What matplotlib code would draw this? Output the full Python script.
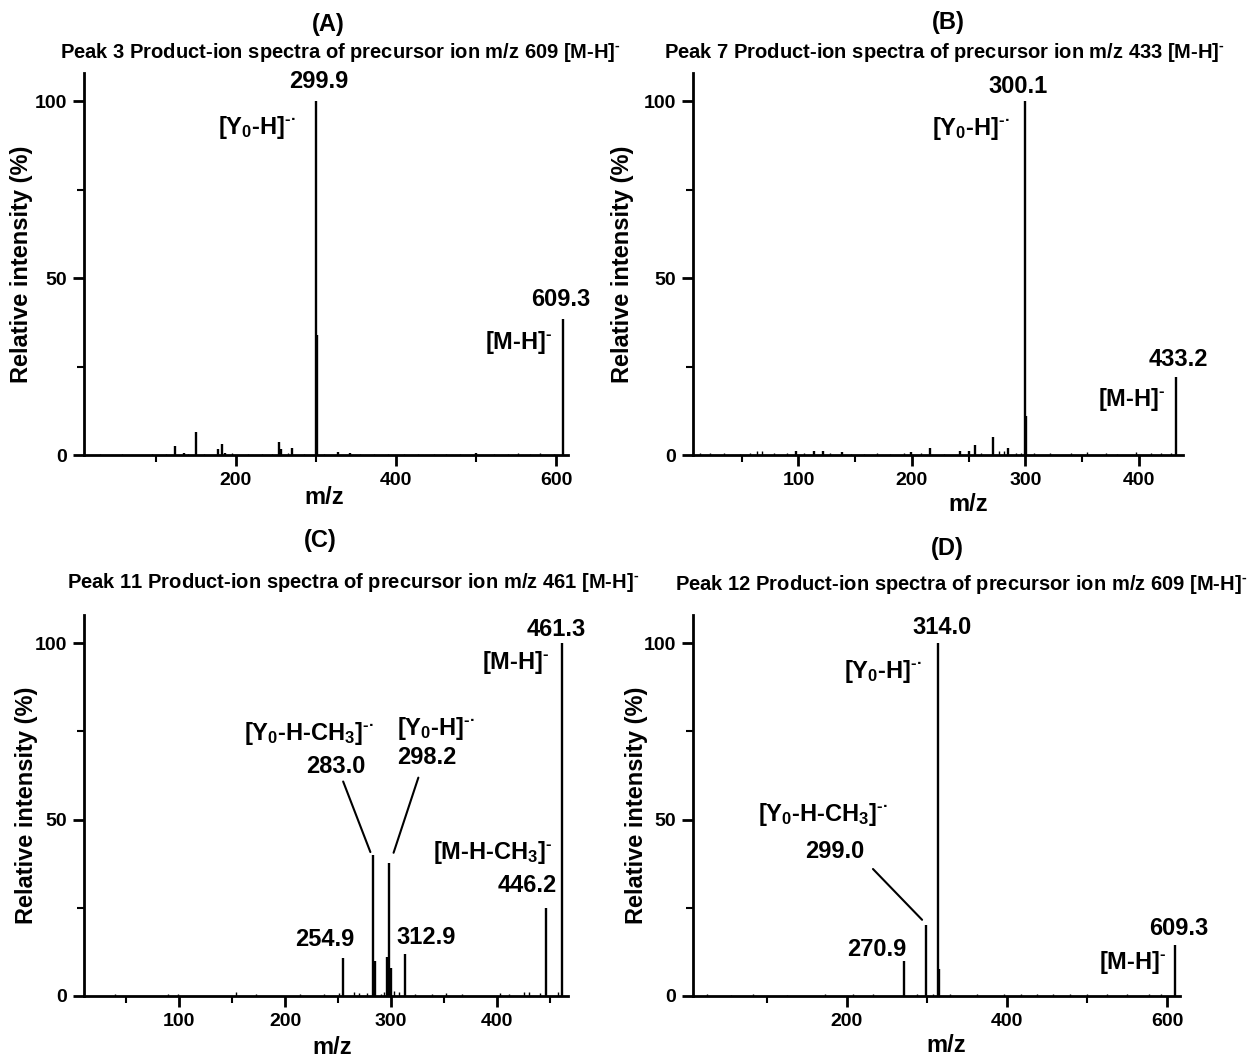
import matplotlib
matplotlib.use("Agg")
import matplotlib.pyplot as plt
from matplotlib.ticker import MultipleLocator

plt.rcParams['font.family'] = ['Liberation Sans', 'DejaVu Sans']
plt.rcParams['font.weight'] = 'bold'
plt.rcParams['mathtext.fontset'] = 'custom'
plt.rcParams['mathtext.rm'] = 'Liberation Sans:bold'
plt.rcParams['mathtext.it'] = 'Liberation Sans:bold'
plt.rcParams['mathtext.bf'] = 'Liberation Sans:bold'

W, H = 1252, 1059

# ---- Data (m/z, relative intensity %) ----
# Panel A: peak 3, precursor m/z 609
a_mz = [299.9, 301.0, 609.3, 124.0, 135.0, 149.6, 178.0, 182.5, 186.7, 253.8, 256.7, 269.6, 327.0, 343.0, 500.0]
a_int = [100.0, 34.0, 38.5, 2.6, 0.5, 6.4, 1.8, 3.0, 0.5, 3.6, 1.7, 2.0, 0.8, 0.6, 0.5]
a_noise_mz = [30, 58, 95, 112, 140, 160, 195, 215, 232, 245, 265, 285, 310, 355, 372, 390,
              410, 428, 447, 462, 480, 522, 540, 552, 568, 580, 597]
a_noise_int = [0.4, 0.3, 0.4, 0.3, 0.4, 0.3, 0.5, 0.3, 0.4, 0.3, 0.5, 0.4, 0.4, 0.3, 0.4, 0.3,
               0.4, 0.3, 0.4, 0.3, 0.4, 0.4, 0.3, 0.5, 0.4, 0.5, 0.4]

# Panel B: peak 7, precursor m/z 433
b_mz = [300.1, 301.0, 433.2, 271.8, 255.3, 284.5, 215.9, 199.0, 114.0, 121.8, 97.6, 138.8, 242.0, 250.6]
b_int = [100.0, 11.0, 22.0, 5.0, 2.9, 2.0, 1.9, 0.9, 1.2, 1.2, 1.0, 0.8, 1.2, 1.0]
b_noise_mz = [13.5, 22.3, 34, 48.8, 57.6, 63.6, 68, 78, 90, 104.7, 128, 146, 157.6, 169.4, 181,
              193, 207.7, 228, 260.6, 276.8, 281.2, 291.5, 296, 307.5, 322, 340, 354, 371, 381,
              398, 410.7, 419.6, 428]
b_noise_int = [0.6, 0.5, 0.5, 0.4, 0.6, 1.2, 1.0, 0.6, 0.5, 0.6, 0.5, 0.4, 0.4, 0.5, 0.4,
               0.5, 0.5, 0.4, 0.6, 1.0, 1.0, 0.5, 0.6, 0.5, 0.6, 0.6, 0.8, 0.6, 0.4,
               0.8, 0.5, 0.5, 0.5]

# Panel C: peak 11, precursor m/z 461
c_mz = [461.3, 283.0, 284.5, 298.2, 296.5, 299.5, 254.9, 312.9, 446.2]
c_int = [100.0, 40.0, 10.0, 37.7, 11.0, 8.0, 10.8, 11.8, 25.0]
c_noise_mz = [39.5, 89.7, 99, 153.9, 172.7, 213.5, 237, 250.5, 265.2, 270, 276.8, 290, 293.4,
              302.8, 307.5, 323, 338.9, 351.4, 367, 403, 411, 425, 429.8, 440.8, 458]
c_noise_int = [0.5, 0.7, 0.6, 1.0, 0.6, 0.5, 0.6, 0.8, 1.0, 0.8, 0.8, 0.7, 1.2,
               1.5, 1.0, 0.7, 0.6, 0.8, 0.7, 0.8, 0.7, 1.0, 1.2, 0.8, 1.0]

# Panel D: peak 12, precursor m/z 609
d_mz = [314.0, 315.5, 299.0, 270.9, 609.3]
d_int = [100.0, 7.7, 20.0, 10.0, 14.5]
d_noise_mz = [25, 56, 83, 125, 173, 208, 233, 287.5, 308, 329, 362.5, 396, 417, 437.5, 458,
              479, 500, 525, 550, 577, 592]
d_noise_int = [0.5, 0.4, 0.5, 0.4, 0.5, 0.6, 0.5, 0.6, 0.5, 0.6, 0.5, 0.6, 0.7, 0.6, 0.7,
               0.6, 0.5, 0.5, 0.6, 0.5, 0.6]

panels = [
    dict(letter="(A)", title=r"Peak 3 Product-ion spectra of precursor ion m/z 609 [M-H]$^{\text{-}}$",
         mz=a_mz, inten=a_int, nmz=a_noise_mz, nint=a_noise_int,
         box=(84, 568, 73, 455), xlim=(10, 615), major=200, minor=100,
         letter_xy=(328, 24), title_xy=(340, 52), ylab_x=22, xlab_xy=(324, 498)),
    dict(letter="(B)", title=r"Peak 7 Product-ion spectra of precursor ion m/z 433 [M-H]$^{\text{-}}$",
         mz=b_mz, inten=b_int, nmz=b_noise_mz, nint=b_noise_int,
         box=(693, 1183, 73, 455), xlim=(7, 439), major=100, minor=50,
         letter_xy=(948, 22), title_xy=(944, 52), ylab_x=623, xlab_xy=(968, 505)),
    dict(letter="(C)", title=r"Peak 11 Product-ion spectra of precursor ion m/z 461 [M-H]$^{\text{-}}$",
         mz=c_mz, inten=c_int, nmz=c_noise_mz, nint=c_noise_int,
         box=(84, 568, 615, 996), xlim=(10, 467), major=100, minor=50,
         letter_xy=(320, 541), title_xy=(353, 583), ylab_x=27, xlab_xy=(332, 1048)),
    dict(letter="(D)", title=r"Peak 12 Product-ion spectra of precursor ion m/z 609 [M-H]$^{\text{-}}$",
         mz=d_mz, inten=d_int, nmz=d_noise_mz, nint=d_noise_int,
         box=(693, 1180, 615, 996), xlim=(8, 616), major=200, minor=100,
         letter_xy=(947, 548), title_xy=(961, 585), ylab_x=637, xlab_xy=(946, 1046)),
]

Y0H = r"[Y$_0$-H]$^{\text{-·}}$"
Y0HCH3 = r"[Y$_0$-H-CH$_3$]$^{\text{-·}}$"
MH = r"[M-H]$^{\text{-}}$"
MHCH3 = r"[M-H-CH$_3$]$^{\text{-}}$"

# (text, x, y) labels in data coordinates
labels = [
    [("299.9", 303.5, 105.6), (Y0H, 226, 92.7), ("609.3", 606, 44), (MH, 553, 31.7)],
    [("300.1", 293.7, 104.3), (Y0H, 251.8, 92.4), ("433.2", 434.9, 27), (MH, 394, 15.6)],
    [("461.3", 456, 103.9), (MH, 418, 94.5), (Y0HCH3, 222, 74.3), ("283.0", 247.5, 65),
     (Y0H, 342.6, 75.8), ("298.2", 334, 67.5), (MHCH3, 395.5, 40.6), ("446.2", 428.7, 31.3),
     ("254.9", 237, 16), ("312.9", 333, 16.5)],
    [("314.0", 318.6, 104.5), (Y0H, 245, 91.9), (Y0HCH3, 170, 51.4), ("299.0", 185, 41.1),
     ("270.9", 237.7, 13.3), ("609.3", 614.6, 19.1), (MH, 556.8, 9.4)],
]
leaders = [
    [],
    [],
    [((254.7, 60.8), (280.4, 40.8)), ((325.7, 61.9), (302.3, 40.6))],
    [((232.7, 36.0), (294.0, 21.6))],
]

fig = plt.figure(figsize=(W / 100, H / 100), dpi=100)

for p, labs, leads in zip(panels, labels, leaders):
    l, r, t, b = p["box"]
    ax = fig.add_axes([l / W, 1 - b / H, (r - l) / W, (b - t) / H])
    ax.vlines(p["nmz"], 0, p["nint"], color="black", lw=1.0)
    ax.vlines(p["mz"], 0, p["inten"], color="black", lw=1.7)
    ax.set_xlim(*p["xlim"])
    ax.set_ylim(0, 108)
    for s in ["top", "right"]:
        ax.spines[s].set_visible(False)
    for s in ["left", "bottom"]:
        ax.spines[s].set_linewidth(2)
    ax.xaxis.set_major_locator(MultipleLocator(p["major"]))
    ax.xaxis.set_minor_locator(MultipleLocator(p["minor"]))
    ax.yaxis.set_major_locator(MultipleLocator(50))
    ax.yaxis.set_minor_locator(MultipleLocator(25))
    ax.tick_params(which="major", direction="out", length=8, width=2, labelsize=14, pad=4)
    ax.tick_params(which="minor", direction="out", length=5, width=1.5)
    for lab in ax.get_xticklabels() + ax.get_yticklabels():
        lab.set_fontweight("bold")

    for txt, x, y in labs:
        ax.text(x, y, txt, ha="center", va="center", fontsize=17, fontweight="bold")
    for (x0, y0), (x1, y1) in leads:
        ax.annotate("", xy=(x1, y1), xytext=(x0, y0),
                    arrowprops=dict(arrowstyle="-", color="black", lw=1.5, shrinkA=0, shrinkB=0))

    fig.text(p["letter_xy"][0] / W, 1 - p["letter_xy"][1] / H, p["letter"],
             ha="center", va="center", fontsize=17, fontweight="bold")
    fig.text(p["title_xy"][0] / W, 1 - p["title_xy"][1] / H, p["title"],
             ha="center", va="center", fontsize=14.5, fontweight="bold")
    fig.text(p["ylab_x"] / W, 1 - ((t + b) / 2) / H, "Relative intensity (%)",
             rotation=90, ha="center", va="center", fontsize=17, fontweight="bold")
    fig.text(p["xlab_xy"][0] / W, 1 - p["xlab_xy"][1] / H, "m/z",
             ha="center", va="center", fontsize=17, fontweight="bold")

fig.savefig("out.png", dpi=100)
